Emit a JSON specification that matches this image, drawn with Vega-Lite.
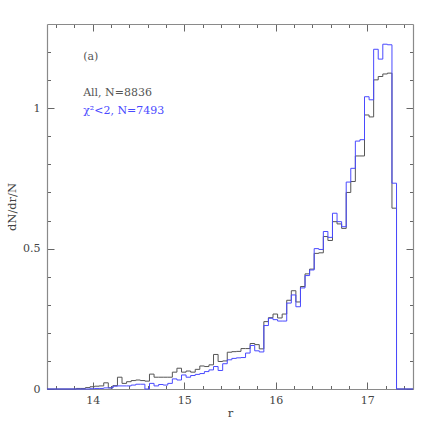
{
  "$schema": "https://vega.github.io/schema/vega-lite/v6.json",
  "width": 366,
  "height": 365,
  "autosize": "none",
  "padding": {"left": 47, "top": 24, "right": 23, "bottom": 47},
  "background": "white",
  "config": {
    "view": {"stroke": null},
    "axis": {
      "grid": false,
      "domainColor": "#8a8a8a",
      "domainWidth": 1.2,
      "tickColor": "#666666",
      "tickWidth": 1,
      "labelFont": "DejaVu Serif",
      "titleFont": "DejaVu Serif",
      "labelFontSize": 11,
      "titleFontSize": 11.5,
      "titleFontWeight": "normal",
      "labelColor": "#444444",
      "titleColor": "#444444"
    }
  },
  "resolve": {"axis": {"x": "independent", "y": "independent"}},
  "layer": [
    {
      "data": {"name": "hist"},
      "transform": [{"fold": ["all", "chi"], "as": ["set", "v"]}],
      "mark": {"type": "line", "opacity": 0},
      "encoding": {
        "x": {"field": "r", "type": "quantitative", "scale": {"domain": [13.5, 17.5], "nice": false, "zero": false},
              "axis": {"orient": "bottom", "values": [13.6,13.8,14.2,14.4,14.6,14.8,15.2,15.4,15.6,15.8,16.2,16.4,16.6,16.8,17.2,17.4], "labels": false, "tickSize": -3.5, "domain": false, "title": null}},
        "y": {"field": "v", "type": "quantitative", "scale": {"domain": [0, 1.3], "nice": false, "zero": true},
              "axis": {"orient": "left", "values": [0.1,0.2,0.3,0.4,0.6,0.7,0.8,0.9,1.1,1.2], "labels": false, "tickSize": -3.5, "domain": false, "title": null}},
        "detail": {"field": "set"}
      }
    },
    {
      "data": {"name": "hist"},
      "transform": [{"fold": ["all", "chi"], "as": ["set", "v"]}],
      "mark": {"type": "line", "opacity": 0},
      "encoding": {
        "x": {"field": "r", "type": "quantitative", "scale": {"domain": [13.5, 17.5], "nice": false, "zero": false},
              "axis": {"orient": "top", "values": [13.6,13.8,14.2,14.4,14.6,14.8,15.2,15.4,15.6,15.8,16.2,16.4,16.6,16.8,17.2,17.4], "labels": false, "tickSize": -3.5, "domain": false, "title": null}},
        "y": {"field": "v", "type": "quantitative", "scale": {"domain": [0, 1.3], "nice": false, "zero": true},
              "axis": {"orient": "right", "values": [0.1,0.2,0.3,0.4,0.6,0.7,0.8,0.9,1.1,1.2], "labels": false, "tickSize": -3.5, "domain": false, "title": null}},
        "detail": {"field": "set"}
      }
    },
    {
      "data": {"name": "hist"},
      "transform": [{"fold": ["all", "chi"], "as": ["set", "v"]}],
      "mark": {"type": "line", "opacity": 0},
      "encoding": {
        "x": {"field": "r", "type": "quantitative", "scale": {"domain": [13.5, 17.5], "nice": false, "zero": false},
              "axis": {"orient": "top", "values": [14, 15, 16, 17], "labels": false, "tickSize": -7, "domain": true, "title": null}},
        "y": {"field": "v", "type": "quantitative", "scale": {"domain": [0, 1.3], "nice": false, "zero": true},
              "axis": {"orient": "right", "values": [0, 0.5, 1], "labels": false, "tickSize": -7, "domain": true, "title": null}},
        "detail": {"field": "set"}
      }
    },
    {
      "data": {"name": "hist"},
      "transform": [{"fold": ["all", "chi"], "as": ["set", "v"]}],
      "mark": {"type": "line", "interpolate": "step-after", "strokeWidth": 1},
      "encoding": {
        "x": {"field": "r", "type": "quantitative", "scale": {"domain": [13.5, 17.5], "nice": false, "zero": false},
              "axis": {"orient": "bottom", "values": [14, 15, 16, 17], "tickSize": -7, "labelPadding": 12, "domain": true, "title": "r", "titlePadding": 2}},
        "y": {"field": "v", "type": "quantitative", "scale": {"domain": [0, 1.3], "nice": false, "zero": true},
              "axis": {"orient": "left", "values": [0, 0.5, 1], "format": "~g", "tickSize": -7, "labelPadding": 14, "domain": true, "title": "dN/dr/N", "titlePadding": 5}},
        "color": {"field": "set", "type": "nominal", "scale": {"domain": ["all", "chi"], "range": ["#555555", "#4a4aff"]}, "legend": null}
      }
    },
    {
      "data": {"name": "labels"},
      "mark": {"type": "text", "align": "left", "baseline": "middle", "font": "DejaVu Serif", "fontSize": 11},
      "encoding": {
        "x": {"field": "r", "type": "quantitative", "scale": {"domain": [13.5, 17.5], "nice": false, "zero": false}, "axis": null},
        "y": {"field": "v", "type": "quantitative", "scale": {"domain": [0, 1.3], "nice": false, "zero": true}, "axis": null},
        "text": {"field": "label"},
        "color": {"field": "set", "type": "nominal", "scale": {"domain": ["all", "chi"], "range": ["#555555", "#4a4aff"]}, "legend": null}
      }
    }
  ],
  "datasets": {
    "labels": [
      {"r": 13.895, "v": 1.183, "label": "(a)", "set": "all"},
      {"r": 13.895, "v": 1.055, "label": "All, N=8836", "set": "all"},
      {"r": 13.895, "v": 0.99, "label": "χ²<2, N=7493", "set": "chi"}
    ],
    "hist": [
      {"r": 13.5, "all": 0, "chi": 0},
      {"r": 13.82, "all": 0.002, "chi": 0},
      {"r": 13.87, "all": 0.002, "chi": 0},
      {"r": 13.92, "all": 0.005, "chi": 0},
      {"r": 13.97, "all": 0.008, "chi": 0.001},
      {"r": 14.02, "all": 0.010, "chi": 0.002},
      {"r": 14.07, "all": 0.011, "chi": 0.002},
      {"r": 14.12, "all": 0.022, "chi": 0.004},
      {"r": 14.17, "all": 0.004, "chi": 0.004},
      {"r": 14.22, "all": 0.012, "chi": 0.010},
      {"r": 14.27, "all": 0.042, "chi": 0.011},
      {"r": 14.32, "all": 0.020, "chi": 0.011},
      {"r": 14.37, "all": 0.026, "chi": 0.011},
      {"r": 14.42, "all": 0.030, "chi": 0.014},
      {"r": 14.47, "all": 0.032, "chi": 0.017},
      {"r": 14.52, "all": 0.030, "chi": 0.017},
      {"r": 14.57, "all": 0.028, "chi": 0.000},
      {"r": 14.62, "all": 0.053, "chi": 0.020},
      {"r": 14.67, "all": 0.042, "chi": 0.011},
      {"r": 14.72, "all": 0.042, "chi": 0.016},
      {"r": 14.77, "all": 0.042, "chi": 0.014},
      {"r": 14.82, "all": 0.042, "chi": 0.020},
      {"r": 14.87, "all": 0.060, "chi": 0.036},
      {"r": 14.92, "all": 0.074, "chi": 0.032},
      {"r": 14.97, "all": 0.060, "chi": 0.050},
      {"r": 15.02, "all": 0.064, "chi": 0.042},
      {"r": 15.07, "all": 0.060, "chi": 0.048},
      {"r": 15.12, "all": 0.070, "chi": 0.052},
      {"r": 15.17, "all": 0.082, "chi": 0.055},
      {"r": 15.22, "all": 0.080, "chi": 0.062},
      {"r": 15.27, "all": 0.086, "chi": 0.068},
      {"r": 15.32, "all": 0.123, "chi": 0.080},
      {"r": 15.37, "all": 0.098, "chi": 0.066},
      {"r": 15.42, "all": 0.100, "chi": 0.090},
      {"r": 15.47, "all": 0.131, "chi": 0.104},
      {"r": 15.52, "all": 0.133, "chi": 0.109},
      {"r": 15.57, "all": 0.134, "chi": 0.111},
      {"r": 15.62, "all": 0.144, "chi": 0.112},
      {"r": 15.67, "all": 0.144, "chi": 0.128},
      {"r": 15.72, "all": 0.162, "chi": 0.155},
      {"r": 15.77, "all": 0.158, "chi": 0.136},
      {"r": 15.82, "all": 0.143, "chi": 0.132},
      {"r": 15.87, "all": 0.240, "chi": 0.226},
      {"r": 15.92, "all": 0.254, "chi": 0.252},
      {"r": 15.97, "all": 0.267, "chi": 0.247},
      {"r": 16.02, "all": 0.253, "chi": 0.242},
      {"r": 16.07, "all": 0.267, "chi": 0.242},
      {"r": 16.12, "all": 0.316, "chi": 0.306},
      {"r": 16.17, "all": 0.350, "chi": 0.335},
      {"r": 16.22, "all": 0.310, "chi": 0.293},
      {"r": 16.27, "all": 0.365, "chi": 0.360},
      {"r": 16.32, "all": 0.410, "chi": 0.404},
      {"r": 16.37, "all": 0.427, "chi": 0.424},
      {"r": 16.42, "all": 0.483, "chi": 0.500},
      {"r": 16.47, "all": 0.485, "chi": 0.497},
      {"r": 16.52, "all": 0.543, "chi": 0.561},
      {"r": 16.57, "all": 0.529, "chi": 0.540},
      {"r": 16.62, "all": 0.596, "chi": 0.626},
      {"r": 16.67, "all": 0.588, "chi": 0.596},
      {"r": 16.72, "all": 0.572, "chi": 0.578},
      {"r": 16.77, "all": 0.700, "chi": 0.737},
      {"r": 16.82, "all": 0.739, "chi": 0.786},
      {"r": 16.87, "all": 0.830, "chi": 0.883},
      {"r": 16.92, "all": 0.830, "chi": 0.888},
      {"r": 16.97, "all": 0.976, "chi": 1.041},
      {"r": 17.02, "all": 0.969, "chi": 1.030},
      {"r": 17.07, "all": 1.101, "chi": 1.210},
      {"r": 17.12, "all": 1.113, "chi": 1.175},
      {"r": 17.17, "all": 1.122, "chi": 1.228},
      {"r": 17.22, "all": 1.125, "chi": 1.226},
      {"r": 17.27, "all": 0.644, "chi": 0.733},
      {"r": 17.32, "all": 0, "chi": 0},
      {"r": 17.5, "all": 0, "chi": 0}
    ]
  }
}
